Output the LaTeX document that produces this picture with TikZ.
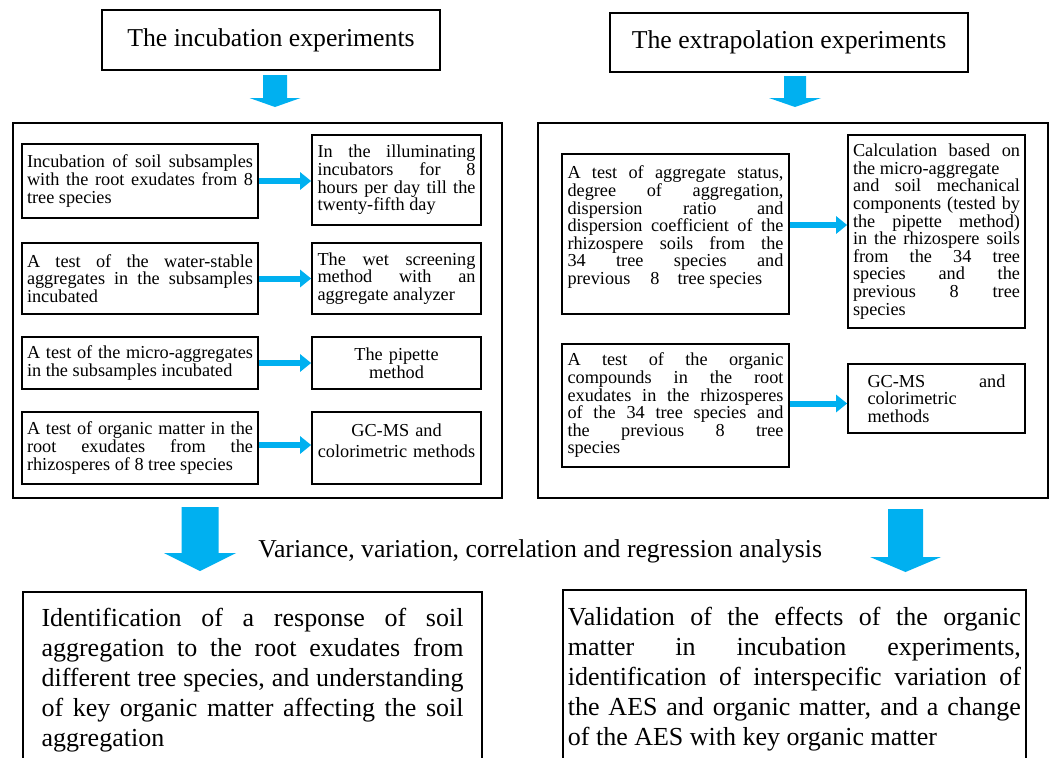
\documentclass[tikz,border=0pt]{standalone}
\usepackage{fontspec}
\setmainfont{Liberation Serif}
\usetikzlibrary{arrows.meta,calc}
\definecolor{arrowblue}{HTML}{00B0F0}
\newcommand\smallfont{\fontsize{13.7pt}{13.2pt}\selectfont\lineskiplimit=-20pt\hyphenpenalty=10000\exhyphenpenalty=10000\hbadness=10000}
\newcommand\bigfont{\fontsize{19.5pt}{22.5pt}\selectfont\lineskiplimit=-20pt\hyphenpenalty=10000\exhyphenpenalty=10000\hbadness=10000}
\newcommand\headfont{\fontsize{19.3pt}{22pt}\selectfont}
\newcommand\bArrow[6]{%
  \fill[arrowblue] (#1-#5,#2) -- (#1+#5,#2) -- (#1+#5,#3) -- (#1+#6,#3) -- (#1,#4) -- (#1-#6,#3) -- (#1-#5,#3) -- cycle;}
\tikzset{
  boxline/.style={draw=black, line width=1.3pt},
  panel/.style={boxline, inner sep=0pt},
  headbox/.style={boxline, inner sep=0pt, font=\headfont},
  smallbox/.style={boxline, inner sep=0pt, align=justify, font=\smallfont},
  smallcenter/.style={boxline, inner sep=0pt, align=center, font=\smallfont},
  bigbox/.style={boxline, anchor=north west, align=justify, font=\bigfont},
  harrow/.style={draw=arrowblue, line width=4.5pt, -{Triangle[length=8.25pt,width=12.75pt]}},
}
\begin{document}
\begin{tikzpicture}[x=0.75pt,y=-0.75pt]
\useasboundingbox (0,0) rectangle (1063,757);
\fill[white] (0,0) rectangle (1063,757);

% titles
\node[headbox, minimum width=253.5pt, minimum height=45pt] (t1) at (271,40) {The incubation experiments};
\node[headbox, minimum width=268.5pt, minimum height=44.25pt] (t2) at (789,42.5) {The extrapolation experiments};

% panels
\node[panel, minimum width=366.75pt, minimum height=281.25pt] (pl) at (257.5,310.5) {};
\node[panel, minimum width=382.5pt, minimum height=281.25pt] (pr) at (793,310.5) {};

% left panel boxes
\node[smallbox, minimum width=177pt, minimum height=55.5pt, text width=169.5pt] (l1a) at (140,181)
  {Incubation of soil subsamples\linebreak with the root exudates from 8\linebreak tree species};
\node[smallbox, minimum width=126.75pt, minimum height=67.5pt, text width=118.5pt] (l1b) at (396.5,180)
  {In the illuminating\linebreak incubators for 8\linebreak hours per day till the\linebreak twenty-fifth day};
\node[smallbox, minimum width=177pt, minimum height=53.25pt, text width=169.5pt] (l2a) at (140,278.5)
  {A test of the water-stable\linebreak aggregates in the subsamples\linebreak incubated};
\node[smallbox, minimum width=126.75pt, minimum height=53.25pt, text width=118.5pt] (l2b) at (396.5,278.5)
  {The wet screening\linebreak method with an\linebreak aggregate analyzer};
\node[smallbox, minimum width=177pt, minimum height=39pt, text width=169.5pt] (l3a) at (140,363)
  {A test of the micro-aggregates\linebreak in the subsamples incubated};
\node[smallcenter, minimum width=126.75pt, minimum height=39pt, text width=118.5pt] (l3b) at (396.5,363)
  {The pipette\\method};
\node[smallbox, minimum width=177pt, minimum height=54pt, text width=169.5pt] (l4a) at (140,448)
  {A test of organic matter in the\linebreak root exudates from the\linebreak rhizosperes of 8 tree species};
\node[smallcenter, minimum width=126.75pt, minimum height=54pt, text width=118.5pt] (l4b) at (396.5,448)
  {GC-MS and\\[2pt]colorimetric methods\\[-2pt]\mbox{}};

% right panel boxes
\node[smallbox, minimum width=170.25pt, minimum height=120pt, text width=162pt] (r1a) at (675.5,234)
  {A test of aggregate status,\linebreak degree of aggregation,\linebreak dispersion ratio and\linebreak dispersion coefficient of the\linebreak rhizospere soils from the\linebreak 34 tree species and\linebreak previous\hspace{15pt}8\hspace{13.5pt}tree species\\\mbox{}};
\node[smallbox, minimum width=132.75pt, minimum height=144.75pt, text width=125.25pt] (r1b) at (936.5,231.5)
  {Calculation based on\linebreak the micro-aggregate\newline and soil mechanical\linebreak components (tested by\linebreak the pipette method)\linebreak in the rhizospere soils\linebreak from the 34 tree\linebreak species and the\linebreak previous 8 tree\linebreak species};
\node[smallbox, minimum width=170.25pt, minimum height=92.25pt, text width=162pt] (r2a) at (675.5,405.5)
  {A test of the organic\linebreak compounds in the root\linebreak exudates in the rhizosperes\linebreak of the 34 tree species and\linebreak the previous 8 tree\linebreak species};
\node[smallbox, minimum width=132.75pt, minimum height=51.75pt, text width=103.5pt] (r2b) at (936.5,398.5)
  {GC-MS and\linebreak colorimetric\newline methods};

% horizontal arrows
\draw[harrow] (l1a.east) -- (l1a.east -| l1b.west);
\draw[harrow] (l2a.east) -- (l2a.east -| l2b.west);
\draw[harrow] (l3a.east) -- (l3a.east -| l3b.west);
\coordinate (a4) at ([yshift=2.25pt]l4a.east);
\draw[harrow] (a4) -- (a4 -| l4b.west);
\coordinate (ar1) at ([yshift=6.75pt]r1a.east);
\draw[harrow] (ar1) -- (ar1 -| r1b.west);
\coordinate (ar2) at ([yshift=1.5pt]r2a.east);
\draw[harrow] (ar2) -- (ar2 -| r2b.west);

% block arrows
\bArrow{275}{75}{98}{107}{12}{25.5}
\bArrow{795}{76}{98}{107}{11}{26}
\bArrow{200}{507}{553}{571}{18.5}{36}
\bArrow{905.5}{509}{557}{572}{17.5}{35.5}

% analysis text
\node[anchor=base west, font=\headfont, inner sep=0pt] (an) at (258,557)
  {Variance, variation, correlation and regression analysis};

% bottom boxes
\node[bigbox, text width=316.5pt, inner xsep=14pt, inner ysep=12pt] (bl) at (22,591)
  {Identification of a response of soil\linebreak aggregation to the root exudates from\linebreak different tree species, and understanding\linebreak of key organic matter affecting the soil\linebreak aggregation};
\node[bigbox, text width=339.75pt, inner xsep=3.75pt, inner ysep=12.75pt] (br) at (562,589)
  {Validation of the effects of the organic\linebreak matter in incubation experiments,\linebreak identification of interspecific variation of\linebreak the AES and organic matter, and a change\linebreak of the AES with key organic matter};
\end{tikzpicture}
\end{document}
